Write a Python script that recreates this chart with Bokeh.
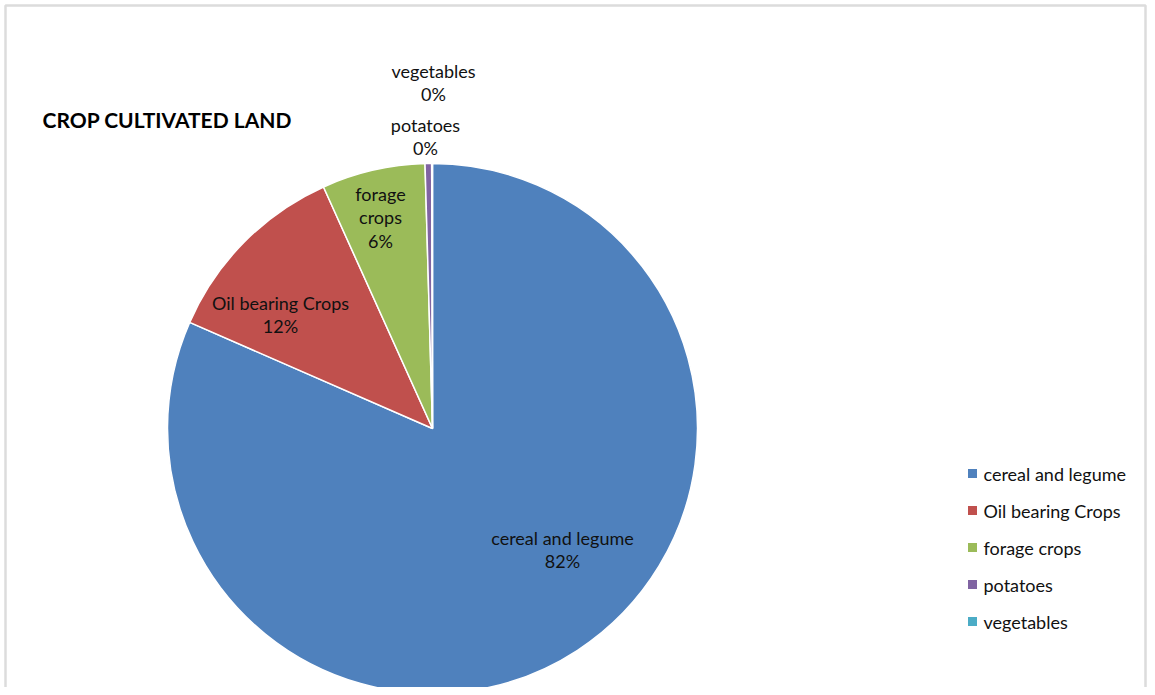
import numpy as np
from bokeh.plotting import figure
from bokeh.models import Range1d, BoxAnnotation, ColumnDataSource
from bokeh.core.properties import value
from bokeh.embed import file_html
from bokeh.resources import INLINE

# ---- data ----
title = "CROP CULTIVATED LAND"
categories = ["cereal and legume", "Oil bearing Crops", "forage crops", "potatoes", "vegetables"]
shares = [81.6, 11.7, 6.3, 0.4, 0.05]
colors = ["#4F81BD", "#C0504D", "#9BBB59", "#8064A2", "#4BACC6"]
slice_labels = ["cereal and legume", "Oil bearing Crops", "forage\ncrops", "potatoes", "vegetables"]

# ---- layout (reference pixel coordinates; data y = PAGE_H - pixel y) ----
W, H = 1147, 687
PAGE_H = 695
FONT = "Lato"
cx, cy, R = 432, PAGE_H - 428, 265
label_pos = [(562, 549), (280, 314), (380, 217), (425, 136), (433, 82)]

def Y(py):
    return PAGE_H - py

p = figure(width=W, height=H, output_backend="svg", toolbar_location=None,
           x_range=Range1d(0, W), y_range=Range1d(PAGE_H - H, PAGE_H),
           min_border=0, background_fill_color="white", border_fill_color="white")
p.axis.visible = False
p.grid.visible = False
p.outline_line_color = None

# frame border
p.add_layout(BoxAnnotation(left=5, right=W - 2, top=Y(5), bottom=Y(720),
                           fill_alpha=0, line_color="#8c8c8c", line_width=2.5))

# wedges
frac = np.array(shares) / sum(shares)
cum = np.concatenate([[0], np.cumsum(frac)])
start = np.pi / 2 - 2 * np.pi * cum[:-1]
end = np.pi / 2 - 2 * np.pi * cum[1:]
src = ColumnDataSource(dict(start=start, end=end, color=colors))
p.wedge(x=cx, y=cy, radius=R, start_angle="start", end_angle="end", direction="clock",
        fill_color="color", line_color="white", line_width=1.5, source=src)

# slice labels
pct = [f"{int(round(s))}%" for s in shares]
txt = [f"{l}\n{q}" for l, q in zip(slice_labels, pct)]
p.text(x=[q[0] for q in label_pos], y=[Y(q[1]) for q in label_pos], text=txt,
       text_align="center", text_baseline="middle", text_font=value(FONT),
       text_font_size="18px", text_color="#111111", text_line_height=1.05)

# title
p.text(x=[42], y=[Y(119)], text=[title], text_align="left", text_baseline="middle",
       text_font=value(FONT), text_font_size="21px", text_font_style="bold",
       text_color="#000000")

# legend
leg_y = [Y(473 + 37 * i) for i in range(len(categories))]
p.scatter(x=[972] * len(categories), y=leg_y, marker="square", size=9,
          fill_color=colors, line_color=None)
p.text(x=[983] * len(categories), y=leg_y, text=categories, text_align="left",
       text_baseline="middle", text_font=value(FONT), text_font_size="18px",
       text_color="#111111")

open("out.html", "w").write(file_html(p, INLINE))
